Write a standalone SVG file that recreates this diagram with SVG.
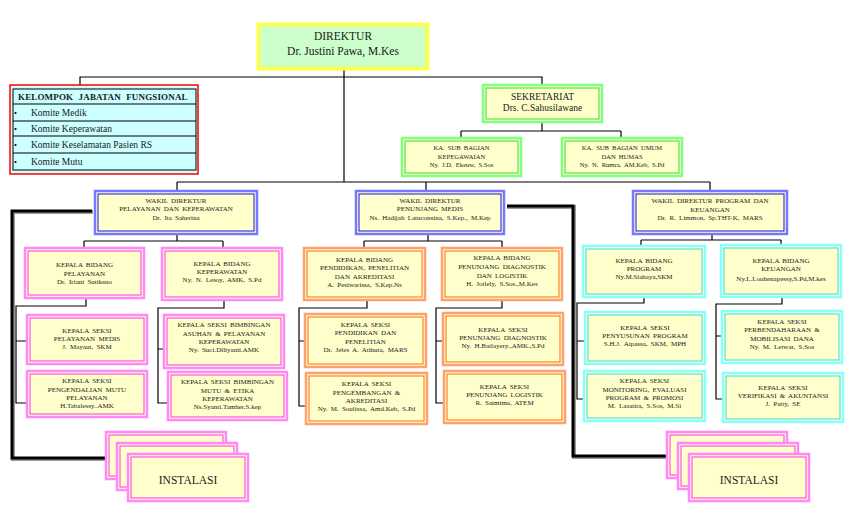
<svg xmlns="http://www.w3.org/2000/svg" width="854" height="519" viewBox="0 0 854 519">
<style>
text{font-family:"Liberation Serif","Times New Roman",serif;fill:#1a1a1a;text-anchor:middle}
.s{font-size:7px;word-spacing:1.5px}
.ss{font-size:6.6px;word-spacing:1.5px}
.m{font-size:9.5px}
.l{font-size:11.5px}
rect.o{fill:#ffffcc;stroke-width:2}
rect.i{fill:none;stroke-width:1}
.dir rect.o{fill:#ccffcc;stroke:#ffff44;stroke-width:3}
.dir rect.i{stroke:#eeff66}
.grn rect.o{stroke:#80ff80;stroke-width:2.5}
.grn rect.i{stroke:#33dd33}
.blu rect.o{stroke:#7777ff;stroke-width:2.5}
.blu rect.i{stroke:#1111ee}
.pnk rect.o{stroke:#ff88ff;stroke-width:2.5}
.pnk rect.i{stroke:#ff33ee}
.org rect.o{stroke:#ffa070;stroke-width:2.5}
.org rect.i{stroke:#ff6a10}
.cyn rect.o{stroke:#88ffff;stroke-width:2.5}
.cyn rect.i{stroke:#33ddee}
.conn path{fill:none;stroke:#000;stroke-width:1.2}
.thick .sh{fill:none;stroke:#999;stroke-width:4}
.thick .bk{fill:none;stroke:#000;stroke-width:3}
.kjf text{text-anchor:start;font-size:9.5px}
</style>

<g class="conn">
<path d="M344,70 V182 M177,182 H710 M177,182 V191 M426,182 V191 M710,182 V191"/>
<path d="M80,85 V77 H542 V85"/>
<path d="M542,122 V131 M461,131 H621 M461,131 V138 M621,131 V138"/>
<path d="M177,234 V241 M84,241 H223 M84,241 V248 M223,241 V248"/>
<path d="M86,298 V306 H16 V403 H27 M16,341 H27"/>
<path d="M224,300 V308 H158 V403 H168 M158,349 H164"/>
<path d="M428,234 V241 M364,241 H502 M364,241 V248 M502,241 V248"/>
<path d="M367,300 V308 H299 V406 H306 M299,341 H305"/>
<path d="M502,300 V308 H436 V403 H444 M436,341 H443"/>
<path d="M712,234 V240 M641,240 H781 M641,240 V246 M781,240 V245"/>
<path d="M644,297 V303 H577 V399 H584 M577,341 H585"/>
<path d="M782,297 V304 H716 V399 H723 M716,336 H722"/>
</g>
<g class="thick">
<path class="sh" d="M93,212 H13 V459 H108"/>
<path class="bk" d="M92,211 H12 V458 H107"/>
<path class="sh" d="M507,207 H574 V457 H668"/>
<path class="bk" d="M507,206 H573 V456 H667"/>
</g>

<g id="direktur" class="dir">
<rect class="o" x="258" y="24" width="170" height="45"/>
<rect class="i" x="261" y="27" width="164" height="39"/>
<text class="l" x="343" y="40">DIREKTUR</text>
<text class="l" x="343" y="55">Dr. Justini Pawa, M.Kes</text>
</g>

<g id="kelompok-jabatan-fungsional" class="kjf">
<rect x="10" y="85" width="188" height="89" fill="#ccffff" stroke="#ff0000" stroke-width="1.5"/>
<rect x="13" y="89" width="183" height="81" fill="#ccffff" stroke="#000" stroke-width="1"/>
<path d="M13,104 H196 M13,121 H196 M13,136 H196 M13,153 H196" stroke="#000" stroke-width="1"/>
<text x="18" y="100" style="font-size:9px;font-weight:bold;word-spacing:3px;letter-spacing:0.15px">KELOMPOK JABATAN FUNGSIONAL</text>
<circle cx="15.5" cy="113" r="1.1" fill="#000"/>
<circle cx="15.5" cy="129" r="1.1" fill="#000"/>
<circle cx="15.5" cy="145" r="1.1" fill="#000"/>
<circle cx="15.5" cy="162" r="1.1" fill="#000"/>
<text x="31" y="116">Komite Medik</text>
<text x="31" y="132">Komite Keperawatan</text>
<text x="31" y="148">Komite Keselamatan Pasien RS</text>
<text x="31" y="165">Komite Mutu</text>
</g>

<g id="sekretariat" class="grn">
<rect class="o" x="483" y="85" width="119" height="37"/>
<rect class="i" x="486" y="88" width="113" height="31"/>
<text class="m" x="542.5" y="100" style="word-spacing:0">SEKRETARIAT</text>
<text class="m" x="542.5" y="111">Drs. C.Sahusilawane</text>
</g>

<g id="sub-kepegawaian" class="grn">
<rect class="o" x="402" y="138" width="119" height="38"/>
<rect class="i" x="405" y="141" width="113" height="32"/>
<text class="ss" x="461.5" y="150">KA. SUB BAGIAN</text>
<text class="ss" x="461.5" y="158.5">KEPEGAWAIAN</text>
<text class="ss" x="461.5" y="167">Ny. J.D. Ekeuw, S.Sos</text>
</g>

<g id="sub-umum" class="grn">
<rect class="o" x="562" y="138" width="120" height="38"/>
<rect class="i" x="565" y="141" width="114" height="32"/>
<text class="ss" x="622" y="150">KA. SUB BAGIAN UMUM</text>
<text class="ss" x="622" y="158.5">DAN HUMAS</text>
<text class="ss" x="622" y="167">Ny. N. Rumra, AM.Keb, S.Pd</text>
</g>

<g id="wakil-pelayanan" class="blu">
<rect class="o" x="95" y="191" width="162" height="43"/>
<rect class="i" x="98" y="194" width="156" height="37"/>
<text class="s" x="176" y="203">WAKIL DIREKTUR</text>
<text class="s" x="176" y="211">PELAYANAN DAN KEPERAWATAN</text>
<text class="s" x="176" y="220">Dr. Ita Saherina</text>
</g>

<g id="wakil-penunjang" class="blu">
<rect class="o" x="356" y="191" width="148" height="43"/>
<rect class="i" x="359" y="194" width="142" height="37"/>
<text class="s" x="430" y="203">WAKIL DIREKTUR</text>
<text class="s" x="430" y="211">PENUNJANG MEDIS</text>
<text class="s" x="430" y="219.5">Ns. Hadijah Latuconsina, S.Kep., M.Kep</text>
</g>

<g id="wakil-program" class="blu">
<rect class="o" x="633" y="191" width="154" height="43"/>
<rect class="i" x="636" y="194" width="148" height="37"/>
<text class="s" x="710" y="203">WAKIL DIREKTUR PROGRAM DAN</text>
<text class="s" x="710" y="211.5">KEUANGAN</text>
<text class="s" x="710" y="220">Dr. R. Limmon, Sp.THT-K, MARS</text>
</g>

<g id="bidang-pelayanan" class="pnk">
<rect class="o" x="25" y="248" width="119" height="50"/>
<rect class="i" x="28" y="251" width="113" height="44"/>
<text class="s" x="84.5" y="267">KEPALA BIDANG</text>
<text class="s" x="84.5" y="276">PELAYANAN</text>
<text class="s" x="84.5" y="284">Dr. Iriani Sutiksno</text>
</g>

<g id="bidang-keperawatan" class="pnk">
<rect class="o" x="162" y="248" width="120" height="52"/>
<rect class="i" x="165" y="251" width="114" height="46"/>
<text class="s" x="222" y="266">KEPALA BIDANG</text>
<text class="s" x="222" y="274">KEPERAWATAN</text>
<text class="s" x="222" y="282">Ny. N. Lesoy, AMK, S.Pd</text>
</g>

<g id="seksi-pelayanan-medis" class="pnk">
<rect class="o" x="27" y="315" width="120" height="49"/>
<rect class="i" x="30" y="318" width="114" height="43"/>
<text class="s" x="87" y="333">KEPALA SEKSI</text>
<text class="s" x="87" y="341">PELAYANAN MEDIS</text>
<text class="s" x="87" y="349">J. Mayaut, SKM</text>
</g>

<g id="seksi-pengendalian-mutu" class="pnk">
<rect class="o" x="27" y="371" width="120" height="46"/>
<rect class="i" x="30" y="374" width="114" height="40"/>
<text class="s" x="87" y="383">KEPALA SEKSI</text>
<text class="s" x="87" y="392">PENGENDALIAN MUTU</text>
<text class="s" x="87" y="400">PELAYANAN</text>
<text class="s" x="87" y="408">H.Tabalessy..AMK</text>
</g>

<g id="seksi-bimbingan-asuhan" class="pnk">
<rect class="o" x="164" y="315" width="120" height="53"/>
<rect class="i" x="167" y="318" width="114" height="47"/>
<text class="s" x="224" y="327">KEPALA SEKSI BIMBINGAN</text>
<text class="s" x="224" y="336">ASUHAN &amp; PELAYANAN</text>
<text class="s" x="224" y="344">KEPERAWATAN</text>
<text class="s" x="224" y="352">Ny. Suci.Diliyanti.AMK</text>
</g>

<g id="seksi-bimbingan-mutu" class="pnk">
<rect class="o" x="168" y="372" width="119" height="48"/>
<rect class="i" x="171" y="375" width="113" height="42"/>
<text class="s" x="227.5" y="384">KEPALA SEKSI BIMBINGAN</text>
<text class="s" x="227.5" y="393">MUTU &amp; ETIKA</text>
<text class="s" x="227.5" y="401">KEPERAWATAN</text>
<text class="s" x="227.5" y="409">Ns.Syanti.Tamher.S.kep</text>
</g>

<g id="bidang-pendidikan" class="org">
<rect class="o" x="304" y="248" width="121" height="52"/>
<rect class="i" x="307" y="251" width="115" height="46"/>
<text class="s" x="364.5" y="262">KEPALA BIDANG</text>
<text class="s" x="364.5" y="270">PENDIDIKAN, PENELITIAN</text>
<text class="s" x="364.5" y="279">DAN AKREDITASI</text>
<text class="s" x="364.5" y="287">A. Pesiwarissa, S.Kep.Ns</text>
</g>

<g id="bidang-penunjang-diagnostik" class="org">
<rect class="o" x="442" y="248" width="120" height="52"/>
<rect class="i" x="445" y="251" width="114" height="46"/>
<text class="s" x="502" y="260">KEPALA BIDANG</text>
<text class="s" x="502" y="269">PENUNJANG DIAGNOSTIK</text>
<text class="s" x="502" y="278">DAN LOGISTIK</text>
<text class="s" x="502" y="286">H. Jotlely, S.Sos.,M.Kes</text>
</g>

<g id="seksi-pendidikan-penelitian" class="org">
<rect class="o" x="305" y="314" width="121" height="53"/>
<rect class="i" x="308" y="317" width="115" height="47"/>
<text class="s" x="365.5" y="327">KEPALA SEKSI</text>
<text class="s" x="365.5" y="335">PENDIDIKAN DAN</text>
<text class="s" x="365.5" y="344">PENELITIAN</text>
<text class="s" x="365.5" y="352">Dr. Jeles A. Atihuta, MARS</text>
</g>

<g id="seksi-pengembangan" class="org">
<rect class="o" x="306" y="373" width="121" height="51"/>
<rect class="i" x="309" y="376" width="115" height="45"/>
<text class="s" x="366.5" y="386">KEPALA SEKSI</text>
<text class="s" x="366.5" y="395">PENGEMBANGAN &amp;</text>
<text class="s" x="366.5" y="403">AKREDITASI</text>
<text class="s" x="366.5" y="411">Ny. M. Soulissa, Amd.Keb, S.Pd</text>
</g>

<g id="seksi-penunjang-diagnostik" class="org">
<rect class="o" x="443" y="313" width="120" height="52"/>
<rect class="i" x="446" y="316" width="114" height="46"/>
<text class="s" x="503" y="332">KEPALA SEKSI</text>
<text class="s" x="503" y="340">PENUNJANG DIAGNOSTIK</text>
<text class="s" x="503" y="348">Ny. H.Batlayery.,AMK.,S.Pd</text>
</g>

<g id="seksi-penunjang-logistik" class="org">
<rect class="o" x="444" y="371" width="121" height="52"/>
<rect class="i" x="447" y="374" width="115" height="46"/>
<text class="s" x="504.5" y="389">KEPALA SEKSI</text>
<text class="s" x="504.5" y="397">PENUNJANG LOGISTIK</text>
<text class="s" x="504.5" y="405">R. Saimima, ATEM</text>
</g>

<g id="bidang-program" class="cyn">
<rect class="o" x="583" y="246" width="122" height="51"/>
<rect class="i" x="586" y="249" width="116" height="45"/>
<text class="s" x="644" y="263">KEPALA BIDANG</text>
<text class="s" x="644" y="271">PROGRAM</text>
<text class="s" x="644" y="279">Ny.M.Siahaya,SKM</text>
</g>

<g id="bidang-keuangan" class="cyn">
<rect class="o" x="721" y="245" width="120" height="52"/>
<rect class="i" x="724" y="248" width="114" height="46"/>
<text class="s" x="781" y="263">KEPALA BIDANG</text>
<text class="s" x="781" y="271">KEUANGAN</text>
<text class="s" x="781" y="281">Ny.L.Louhenapessy,S.Pd,M.kes</text>
</g>

<g id="seksi-penyusunan-program" class="cyn">
<rect class="o" x="585" y="312" width="120" height="52"/>
<rect class="i" x="588" y="315" width="114" height="46"/>
<text class="s" x="645" y="330">KEPALA SEKSI</text>
<text class="s" x="645" y="338">PENYUSUNAN PROGRAM</text>
<text class="s" x="645" y="346">S.H.J. Aipassa, SKM, MPH</text>
</g>

<g id="seksi-monitoring" class="cyn">
<rect class="o" x="584" y="371" width="121" height="50"/>
<rect class="i" x="587" y="374" width="115" height="44"/>
<text class="s" x="644.5" y="383">KEPALA SEKSI</text>
<text class="s" x="644.5" y="392">MONITORING, EVALUASI</text>
<text class="s" x="644.5" y="400">PROGRAM &amp; PROMOSI</text>
<text class="s" x="644.5" y="408">M. Lasatira, S.Sos, M.Si</text>
</g>

<g id="seksi-perbendaharaan" class="cyn">
<rect class="o" x="722" y="311" width="120" height="52"/>
<rect class="i" x="725" y="314" width="114" height="46"/>
<text class="s" x="782" y="324">KEPALA SEKSI</text>
<text class="s" x="782" y="332">PERBENDAHARAAN &amp;</text>
<text class="s" x="782" y="341">MOBILISASI DANA</text>
<text class="s" x="782" y="349">Ny. M. Letwar, S.Sos</text>
</g>

<g id="seksi-verifikasi" class="cyn">
<rect class="o" x="723" y="373" width="120" height="49"/>
<rect class="i" x="726" y="376" width="114" height="43"/>
<text class="s" x="783" y="390">KEPALA SEKSI</text>
<text class="s" x="783" y="398">VERIFIKASI &amp; AKUNTANSI</text>
<text class="s" x="783" y="406">J. Patty, SE</text>
</g>

<g id="instalasi-1" class="pnk">
<rect class="o" x="106" y="432" width="120" height="47"/>
<rect class="i" x="109" y="435" width="114" height="41"/>
<rect class="o" x="117" y="443" width="120" height="47"/>
<rect class="i" x="120" y="446" width="114" height="41"/>
<rect class="o" x="128" y="454" width="120" height="47"/>
<rect class="i" x="131" y="457" width="114" height="41"/>
<text class="l" x="188" y="484">INSTALASI</text>
</g>

<g id="instalasi-2" class="pnk">
<rect class="o" x="667" y="432" width="120" height="46"/>
<rect class="i" x="670" y="435" width="114" height="40"/>
<rect class="o" x="678" y="443" width="120" height="46"/>
<rect class="i" x="681" y="446" width="114" height="40"/>
<rect class="o" x="689" y="454" width="120" height="47"/>
<rect class="i" x="692" y="457" width="114" height="41"/>
<text class="l" x="749" y="484">INSTALASI</text>
</g>
</svg>
